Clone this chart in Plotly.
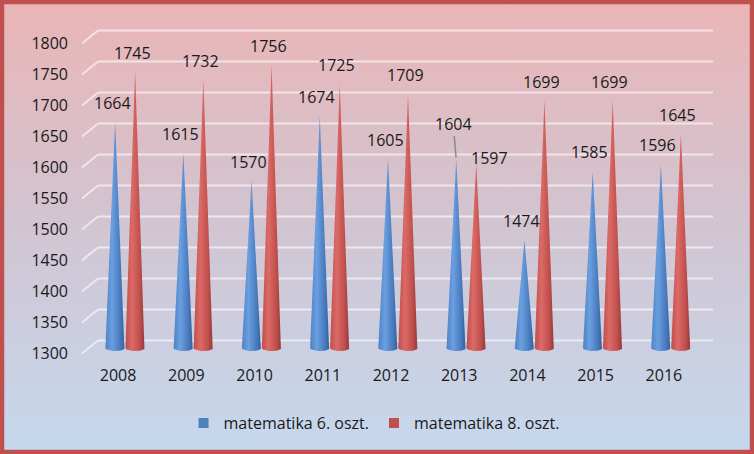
import base64
import numpy as np
import plotly.graph_objects as go

# ---------------- data ----------------
years = ["2008", "2009", "2010", "2011", "2012", "2013", "2014", "2015", "2016"]
math6 = [1664, 1615, 1570, 1674, 1605, 1604, 1474, 1585, 1596]
math8 = [1745, 1732, 1756, 1725, 1709, 1597, 1699, 1699, 1645]
series_names = ["matematika 6. oszt.", "matematika 8. oszt."]
y_ticks = list(range(1300, 1801, 50))

# ---------------- layout constants ----------------
FIG_W, FIG_H = 754, 454
ML, MR, MT, MB = 91, 49, 28, 98
PW, PH = FIG_W - ML - MR, FIG_H - MT - MB
Y_RANGE = [1287.1, 1816.1]
BASE = 1300
OFFSET = 0.1466     # cone centre offset from category centre (category units)
HALF_W = 0.142      # cone base half width (category units)
ARC = 4.8           # depth of elliptical base (data units)
FONT = "Open Sans"
TXT = "#1a1a1a"

blue_scale = [[0, "#4d82c4"], [0.35, "#6a9fe0"], [0.75, "#4a7cc0"], [1, "#35619e"]]
red_scale = [[0, "#bf4d4a"], [0.35, "#dc6a66"], [0.75, "#c0504d"], [1, "#98383a"]]
legend_colors = ["#4f81bd", "#c0504d"]

fig = go.Figure()

def cone(xc, val, scale):
    t = np.linspace(0, np.pi, 24)
    bx = xc + HALF_W * np.cos(t)          # right -> left along the base
    by = BASE - ARC * np.sin(t)
    xs = [xc] + list(bx) + [xc]
    ys = [val] + list(by) + [val]
    return go.Scatter(
        x=xs, y=ys, mode="lines", line=dict(width=0), fill="toself",
        fillgradient=dict(type="horizontal", colorscale=scale),
        showlegend=False, hoverinfo="skip",
    )

for i in range(len(years)):
    fig.add_trace(cone(i - OFFSET, math6[i], blue_scale))
    fig.add_trace(cone(i + OFFSET, math8[i], red_scale))

# legend entries
for name, col in zip(series_names, legend_colors):
    fig.add_trace(go.Scatter(x=[None], y=[None], mode="markers", name=name,
                             marker=dict(symbol="square", size=10, color=col)))

# data labels
annotations = []
for i in range(len(years)):
    for k, (vals, sign) in enumerate([(math6, -1), (math8, 1)]):
        v = vals[i]
        x = i + sign * OFFSET
        a = dict(x=x, y=v, xref="x", yref="y", text=str(v), showarrow=False,
                 xshift=-3, yshift=19, font=dict(family=FONT, size=16, color=TXT))
        if years[i] == "2013" and k == 0:
            a.update(showarrow=True, ax=-3, ay=-36, arrowhead=0, arrowwidth=1.5,
                     arrowcolor="#8a8a8a", standoff=2, xshift=0, yshift=0)
        if years[i] == "2013" and k == 1:
            a.update(xshift=13, yshift=6)
        annotations.append(a)

# gridlines in 3D style (back wall line + slanted stub on the floor)
shapes = []
grid_col = "rgba(255,255,255,0.6)"
for v in y_ticks:
    shapes.append(dict(type="line", xref="paper", yref="y", xsizemode="pixel", ysizemode="pixel",
                       xanchor=0, yanchor=v, x0=7, x1=622, y0=7.5, y1=7.5,
                       line=dict(color=grid_col, width=2), layer="below"))
    shapes.append(dict(type="line", xref="paper", yref="y", xsizemode="pixel", ysizemode="pixel",
                       xanchor=0, yanchor=v, x0=-9, x1=7, y0=-5.5, y1=7.5,
                       line=dict(color=grid_col, width=2), layer="below"))

# background gradient + border as an inline svg image
svg = f'''<svg xmlns="http://www.w3.org/2000/svg" width="{FIG_W}" height="{FIG_H}" viewBox="0 0 {FIG_W} {FIG_H}" preserveAspectRatio="none">
<defs><linearGradient id="g" x1="0" y1="0" x2="0" y2="1">
<stop offset="0" stop-color="#ebb5b6"/><stop offset="0.45" stop-color="#d3c3cf"/><stop offset="1" stop-color="#c5d8ee"/>
</linearGradient></defs>
<rect x="0" y="0" width="{FIG_W}" height="{FIG_H}" fill="url(#g)"/>
<rect x="2" y="2" width="{FIG_W-4}" height="{FIG_H-4}" fill="none" stroke="#c0504d" stroke-width="4.5"/>
</svg>'''
src = "data:image/svg+xml;base64," + base64.b64encode(svg.encode()).decode()

fig.update_layout(
    width=FIG_W, height=FIG_H,
    margin=dict(l=ML, r=MR, t=MT, b=MB, autoexpand=False),
    paper_bgcolor="rgba(0,0,0,0)", plot_bgcolor="rgba(0,0,0,0)",
    font=dict(family=FONT, size=16, color=TXT),
    images=[dict(source=src, xref="paper", yref="paper", x=-ML / PW, y=1 + MT / PH,
                 sizex=FIG_W / PW, sizey=FIG_H / PH, sizing="stretch",
                 xanchor="left", yanchor="top", layer="below")],
    shapes=shapes,
    annotations=annotations,
    showlegend=True,
    legend=dict(orientation="h", x=0.461, xanchor="center", y=-(423 - (FIG_H - MB)) / PH,
                yanchor="middle", font=dict(family=FONT, size=16, color=TXT),
                bgcolor="rgba(0,0,0,0)"),
    xaxis=dict(range=[-0.5, len(years) - 0.5], tickvals=list(range(len(years))), ticktext=years,
               showgrid=False, zeroline=False, showline=False, ticks="",
               ticklabelshift=-7, ticklabelstandoff=8, tickfont=dict(size=16)),
    yaxis=dict(range=Y_RANGE, tickvals=y_ticks, showgrid=False, zeroline=False, showline=False,
               ticks="", ticklabelstandoff=22, ticklabelshift=5, tickfont=dict(size=16)),
)

fig.write_html("out.html", config={"displayModeBar": False},
               post_script="document.body.style.margin='0';document.body.style.overflow='hidden';")
